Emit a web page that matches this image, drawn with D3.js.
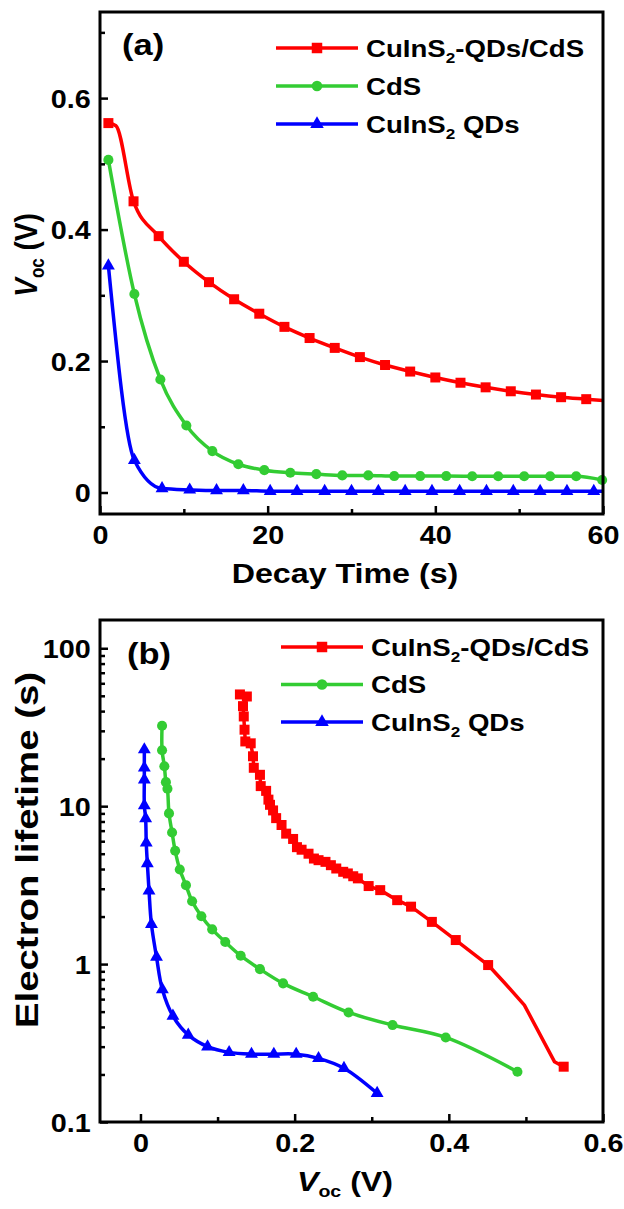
<!DOCTYPE html>
<html>
<head>
<meta charset="utf-8">
<script src="https://cdn.jsdelivr.net/npm/d3@7"></script>
<style>
  body { margin: 0; background: #fff; }
  svg { display: block; }
  text { font-family: "Liberation Sans", Arial, sans-serif; font-weight: bold; fill: #000; }
</style>
</head>
<body>
<svg id="chart" width="624" height="1209"></svg>
<script>
// ---------- Panel (a): open-circuit voltage decay ----------
// marker samples
const redTime  = [1, 4, 7, 10, 13, 16, 19, 22, 25, 28, 31, 34, 37, 40, 43, 46, 49, 52, 55, 58];
const redVoc   = [0.562, 0.443, 0.390, 0.351, 0.320, 0.294, 0.272, 0.252, 0.235, 0.220, 0.206, 0.194, 0.184, 0.175, 0.167, 0.160, 0.154, 0.149, 0.145, 0.142];
// extra samples on the curve without a marker
const redLineTime = [1.9, 60];
const redLineVoc  = [0.558, 0.140];

const greenTime = [1, 4.1, 7.2, 10.3, 13.4, 16.5, 19.6, 22.7, 25.8, 28.9, 32.0, 35.1, 38.2, 41.3, 44.4, 47.5, 50.6, 53.7, 56.8, 59.9];
const greenVoc  = [0.506, 0.302, 0.172, 0.102, 0.063, 0.043, 0.034, 0.030, 0.028, 0.026, 0.026, 0.025, 0.025, 0.025, 0.0248, 0.0248, 0.0248, 0.0248, 0.0248, 0.019];

const blueTime = [1, 4.1, 7.4, 10.7, 13.9, 17.1, 20.3, 23.5, 26.8, 30.0, 33.2, 36.4, 39.6, 42.9, 46.1, 49.3, 52.5, 55.7, 58.9];
const blueVoc  = [0.345, 0.049, 0.006, 0.004, 0.003, 0.003, 0.002, 0.002, 0.002, 0.002, 0.002, 0.002, 0.002, 0.002, 0.002, 0.002, 0.002, 0.002, 0.002];
const blueLineTime = [60];
const blueLineVoc  = [0.002];

const timeTicks = [0, 20, 40, 60];
const timeMinor = [10, 30, 50];
const vocTicks  = [0, 0.2, 0.4, 0.6];
const vocMinor  = [0.1, 0.3, 0.5, 0.7];

// ---------- Panel (b): electron lifetime vs Voc ----------
const redBVoc = [0.129, 0.138, 0.133, 0.134, 0.135, 0.136, 0.143, 0.146, 0.147, 0.155, 0.156, 0.163, 0.166, 0.168, 0.172, 0.176, 0.183, 0.189, 0.198, 0.203, 0.209, 0.218, 0.225, 0.231, 0.240, 0.247, 0.254, 0.263, 0.269, 0.276, 0.282, 0.296, 0.311, 0.333, 0.351, 0.378, 0.409, 0.451, 0.549];
const redBTau = [51, 49.5, 43, 37, 30.5, 25.7, 25, 20.7, 17.5, 15.8, 13.4, 12.5, 11, 10.2, 9.4, 8.4, 7.6, 6.7, 6.2, 5.5, 5.3, 5.0, 4.66, 4.55, 4.44, 4.23, 4.03, 3.84, 3.75, 3.60, 3.49, 3.12, 2.94, 2.54, 2.31, 1.85, 1.42, 0.986, 0.224];
const redBLineVoc = [0.471, 0.498, 0.537];
const redBLineTau = [0.773, 0.55, 0.241];

const greenBVoc = [0.028, 0.028, 0.031, 0.033, 0.035, 0.037, 0.041, 0.045, 0.051, 0.059, 0.067, 0.079, 0.093, 0.110, 0.130, 0.155, 0.185, 0.224, 0.270, 0.327, 0.396, 0.489];
const greenBTau = [32.3, 22.6, 17.9, 14.2, 12.9, 9.0, 6.81, 5.22, 3.97, 3.16, 2.50, 2.01, 1.66, 1.38, 1.13, 0.929, 0.755, 0.621, 0.494, 0.411, 0.343, 0.208];

const blueBVoc = [0.005, 0.005, 0.005, 0.005, 0.0067, 0.0075, 0.0089, 0.0111, 0.0142, 0.0208, 0.0284, 0.0421, 0.062, 0.087, 0.115, 0.144, 0.173, 0.202, 0.231, 0.264, 0.307];
const blueBTau = [22.8, 17.5, 14.7, 10.1, 8.35, 5.86, 4.34, 2.91, 1.79, 1.11, 0.69, 0.469, 0.356, 0.300, 0.276, 0.269, 0.269, 0.269, 0.253, 0.219, 0.152];

const vbTicks = [0, 0.2, 0.4, 0.6];
const vbMinor = [0.1, 0.3, 0.5];
const tauTicks = [0.1, 1, 10, 100];
const tauTickLabels = ["0.1", "1", "10", "100"];

const seriesNames = ["CuInS2-QDs/CdS", "CdS", "CuInS2 QDs"];
const colors = ["#ff0000", "#33cc33", "#0000ff"];

// ---------- drawing ----------
const svg = d3.select("#chart");
const SX = 1.15;             // horizontal text stretch used throughout the figure
const L = 100, R = 603;

function stretched(parent, x, y, size, anchor, rot, sx, sy) {
  const s = sx === undefined ? SX : sx;
  const t = sy === undefined ? 1 : sy;
  return parent.append("text")
    .attr("transform", `translate(${x},${y}) scale(${s},${t})` + (rot ? ` rotate(${rot})` : ""))
    .attr("font-size", size)
    .attr("text-anchor", anchor || "start");
}

// text with a subscript "2" after CuInS
function legendLabel(t, name, size) {
  if (name.startsWith("CuInS2")) {
    t.append("tspan").text("CuInS");
    t.append("tspan").attr("font-size", size * 0.62).attr("dy", size * 0.27).text("2");
    t.append("tspan").attr("dy", -size * 0.27).text(name.slice(6));
  } else {
    t.text(name);
  }
}

const symbols = [d3.symbolSquare, d3.symbolCircle, d3.symbolTriangle];
const symSizes = [100, 80, 72];

function frameAndAxes(g, x, y, top, bottom, opts) {
  g.append("rect").attr("x", L).attr("y", top).attr("width", R - L).attr("height", bottom - top)
    .attr("fill", "none").attr("stroke", "#000").attr("stroke-width", 3);

  const ax = g.append("g").attr("transform", `translate(0,${bottom})`)
    .call(d3.axisBottom(x).tickValues(opts.xTicks).tickSize(-8).tickPadding(12).tickFormat(opts.xFmt));
  const axm = g.append("g").attr("transform", `translate(0,${bottom})`)
    .call(d3.axisBottom(x).tickValues(opts.xMinor).tickSize(-5).tickFormat(""));
  const ay = g.append("g").attr("transform", `translate(${L},0)`)
    .call(d3.axisLeft(y).tickValues(opts.yTicks).tickSize(-8).tickPadding(8).tickFormat(opts.yFmt));
  const aym = g.append("g").attr("transform", `translate(${L},0)`)
    .call(d3.axisLeft(y).tickValues(opts.yMinor).tickSize(-5).tickFormat(""));
  [ax, axm, ay, aym].forEach(a => {
    a.select(".domain").remove();
    a.selectAll("line").attr("stroke", "#000").attr("stroke-width", 2.5);
    a.selectAll("text").attr("font-size", 25).attr("font-family", null).attr("fill", "#000")
      .attr("transform", `scale(${SX},1)`);
  });
  ay.selectAll("text").attr("dy", "0.36em");
  ax.selectAll("text").attr("dy", "0.72em");
}

function drawSeries(g, x, y, lineX, lineY, markX, markY, i, curve) {
  const pts = lineX.map((v, k) => [v, lineY[k]]);
  g.append("path")
    .attr("d", d3.line().x(d => x(d[0])).y(d => y(d[1])).curve(curve)(pts))
    .attr("fill", "none").attr("stroke", colors[i]).attr("stroke-width", 3.5).attr("stroke-linejoin", "round");
  const sym = d3.symbol().type(symbols[i]).size(symSizes[i]);
  g.selectAll(null).data(markX.map((v, k) => [v, markY[k]])).join("path")
    .attr("d", sym)
    .attr("transform", d => `translate(${x(d[0])},${y(d[1])})`)
    .attr("fill", colors[i]);
}

function legend(g, x0, y0, gap) {
  seriesNames.forEach((name, i) => {
    const yy = y0 + i * gap;
    g.append("line").attr("x1", x0).attr("x2", x0 + 82).attr("y1", yy).attr("y2", yy)
      .attr("stroke", colors[i]).attr("stroke-width", 3.5);
    g.append("path").attr("d", d3.symbol().type(symbols[i]).size(symSizes[i] * 1.1)())
      .attr("transform", `translate(${x0 + 41},${yy})`).attr("fill", colors[i]);
    const t = stretched(g, x0 + 90, yy + 8.5, 24, "start");
    legendLabel(t, name, 24);
  });
}

// ----- panel (a)
{
  const top = 12, bottom = 514;
  const g = svg.append("g");
  const x = d3.scaleLinear().domain([0, 60]).range([L, R]);
  const y = d3.scaleLinear().domain([-0.0327, 0.731]).range([bottom, top]);

  const merge = (ax, ay, bx, by) => ax.map((v, k) => [v, ay[k]]).concat(bx.map((v, k) => [v, by[k]]))
    .sort((p, q) => p[0] - q[0]);
  const red = merge(redTime, redVoc, redLineTime, redLineVoc);
  const blue = merge(blueTime, blueVoc, blueLineTime, blueLineVoc);

  drawSeries(g, x, y, red.map(d => d[0]), red.map(d => d[1]), redTime, redVoc, 0, d3.curveMonotoneX);
  drawSeries(g, x, y, greenTime, greenVoc, greenTime, greenVoc, 1, d3.curveMonotoneX);
  drawSeries(g, x, y, blue.map(d => d[0]), blue.map(d => d[1]), blueTime, blueVoc, 2, d3.curveMonotoneX);

  frameAndAxes(g, x, y, top, bottom, {
    xTicks: timeTicks, xMinor: timeMinor, xFmt: d3.format("d"),
    yTicks: vocTicks, yMinor: vocMinor, yFmt: d => d === 0 ? "0" : d3.format(".1f")(d)
  });

  stretched(g, 122, 55, 30, "start").text("(a)");
  legend(g, 276, 48, 38);

  stretched(g, 345, 583, 28, "middle").text("Decay Time (s)");
  const yt = stretched(g, 37, 255, 28, "middle", -90);
  yt.append("tspan").attr("font-style", "italic").text("V");
  yt.append("tspan").attr("font-size", 17).attr("dy", 6).text("oc");
  yt.append("tspan").attr("dy", -6).text(" (V)");
}

// ----- panel (b)
{
  const top = 620, bottom = 1122;
  const g = svg.append("g");
  const x = d3.scaleLinear().domain([-0.0525, 0.6]).range([L, R]);
  const y = d3.scaleLog().domain([0.1, 151]).range([bottom, top]);

  const redLine = redBVoc.slice(0, -1).map((v, k) => [v, redBTau[k]])
    .concat(redBLineVoc.map((v, k) => [v, redBLineTau[k]]))
    .concat([[redBVoc[redBVoc.length - 1], redBTau[redBTau.length - 1]]]);

  drawSeries(g, x, y, redLine.map(d => d[0]), redLine.map(d => d[1]), redBVoc, redBTau, 0, d3.curveLinear);
  drawSeries(g, x, y, greenBVoc, greenBTau, greenBVoc, greenBTau, 1, d3.curveCatmullRom.alpha(0.5));
  drawSeries(g, x, y, blueBVoc, blueBTau, blueBVoc, blueBTau, 2, d3.curveCatmullRom.alpha(0.5));

  const minor = [];
  [0.1, 1, 10, 100].forEach(dec => { for (let m = 2; m <= 9; m++) if (dec * m < 151) minor.push(dec * m); });

  frameAndAxes(g, x, y, top, bottom, {
    xTicks: vbTicks, xMinor: vbMinor, xFmt: d => d === 0 ? "0" : d3.format(".1f")(d),
    yTicks: tauTicks, yMinor: minor, yFmt: d => tauTickLabels[tauTicks.indexOf(d)]
  });

  stretched(g, 127, 664, 30, "start").text("(b)");
  legend(g, 281, 647, 37.5);

  const xt = stretched(g, 345, 1191, 28, "middle");
  xt.append("tspan").attr("font-style", "italic").text("V");
  xt.append("tspan").attr("font-size", 17).attr("dy", 6).text("oc");
  xt.append("tspan").attr("dy", -6).text(" (V)");

  // rotated title, drawn a little elongated along its length
  stretched(g, 38, 850, 32, "middle", -90, 1, 1.2).text("Electron lifetime (s)");
}
</script>
</body>
</html>
